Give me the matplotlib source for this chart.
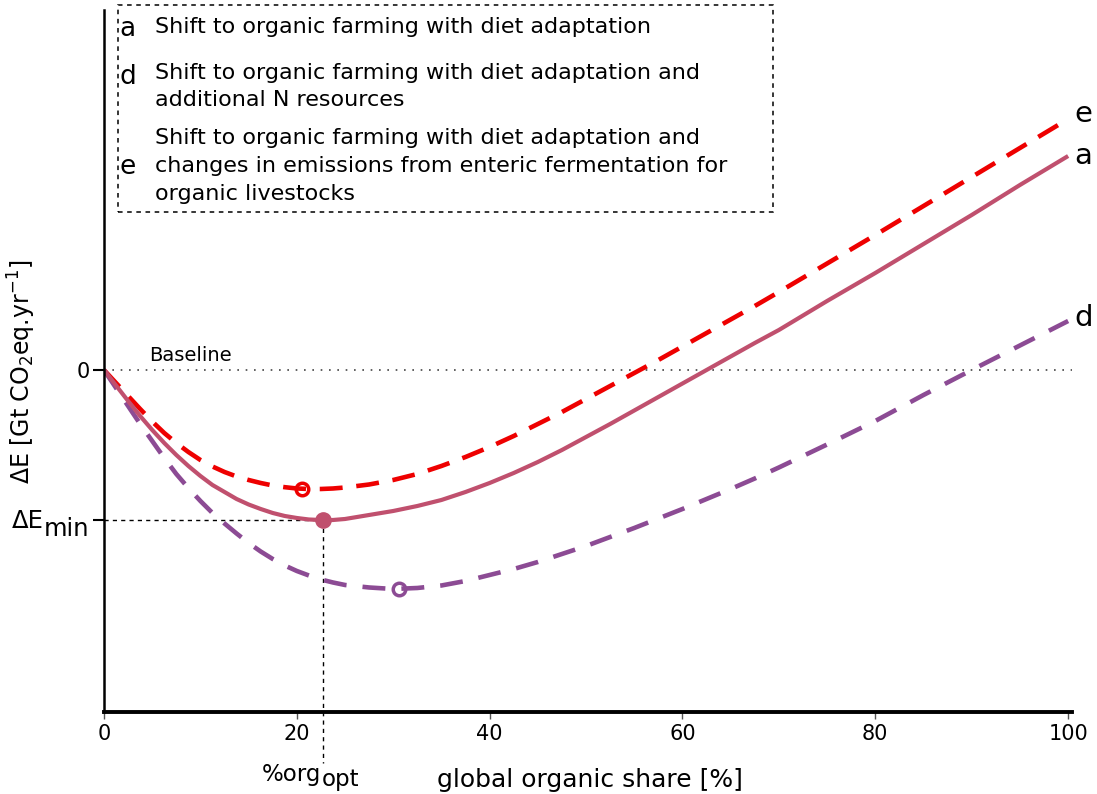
import matplotlib
matplotlib.use("Agg")
import matplotlib.pyplot as plt
from matplotlib.patches import Rectangle

# organic share [%]
share = [0, 1.25, 2.5, 3.75, 5, 6.25, 7.5, 8.75, 10, 11.25, 12.5, 13.75, 15, 16.25,
         17.5, 18.75, 20, 21.25, 22.5, 23.75, 25,
         27.5, 30, 32.5, 35, 37.5, 40, 42.5, 45, 47.5, 50, 52.5, 55, 57.5, 60,
         62.5, 65, 67.5, 70,
         75, 80, 85, 90, 95, 100]
# a: diet adaptation
dE_a = [0, -0.155, -0.31, -0.46, -0.60, -0.73, -0.85, -0.96, -1.06, -1.15, -1.22,
        -1.29, -1.345, -1.39, -1.43, -1.46, -1.48, -1.495, -1.50, -1.50, -1.49,
        -1.45, -1.41, -1.36, -1.30, -1.22, -1.13, -1.03, -0.92, -0.80, -0.67, -0.54,
        -0.405, -0.27, -0.135, 0.0, 0.135, 0.27, 0.40,
        0.69, 0.97, 1.26, 1.55, 1.85, 2.14]
# d: + additional N resources
dE_d = [0, -0.18, -0.36, -0.54, -0.71, -0.88, -1.04, -1.18, -1.31, -1.43, -1.535,
        -1.635, -1.73, -1.815, -1.89, -1.955, -2.01, -2.055, -2.095, -2.125, -2.15,
        -2.175, -2.19, -2.18, -2.155, -2.11, -2.05, -1.99, -1.92, -1.84, -1.76, -1.67,
        -1.58, -1.485, -1.39, -1.29, -1.19, -1.085, -0.975,
        -0.745, -0.51, -0.25, 0.0, 0.245, 0.49]
# e: + enteric fermentation changes
dE_e = [0, -0.13, -0.26, -0.39, -0.515, -0.63, -0.73, -0.82, -0.90, -0.965, -1.02,
        -1.065, -1.10, -1.13, -1.155, -1.172, -1.185, -1.19, -1.19, -1.185, -1.175,
        -1.145, -1.10, -1.04, -0.96, -0.87, -0.77, -0.66, -0.54, -0.42, -0.29, -0.16,
        -0.03, 0.10, 0.235, 0.37, 0.505, 0.64, 0.78,
        1.065, 1.35, 1.64, 1.93, 2.22, 2.51]

# optimum points
opt_a = (22.7, -1.50)
opt_d = (30.6, -2.19)
opt_e = (20.5, -1.19)

col_a = "#c0506e"
col_d = "#8c4b94"
col_e = "#ee0000"

legend_items = [
    ("a", ["Shift to organic farming with diet adaptation"]),
    ("d", ["Shift to organic farming with diet adaptation and",
           "additional N resources"]),
    ("e", ["Shift to organic farming with diet adaptation and",
           "changes in emissions from enteric fermentation for",
           "organic livestocks"]),
]

W, H = 1097, 794
fig = plt.figure(figsize=(W / 100, H / 100), dpi=100)
ax = fig.add_axes([0.0948, 0.1033, 0.8824, 0.8841])

ax.axhline(0, color="#444444", lw=1.2, ls=(0, (1, 4)), xmax=0.9995)
ax.text(4.7, 0.05, "Baseline", fontsize=14, va="bottom")

ax.plot(share, dE_e, color=col_e, lw=3.3, dashes=(5, 3))
ax.plot(share, dE_d, color=col_d, lw=3.3, dashes=(5, 3.5))
ax.plot(share, dE_a, color=col_a, lw=3.0, solid_capstyle="butt")

ax.plot(*opt_e, marker="o", ms=9, mfc="none", mec=col_e, mew=2.5)
ax.plot(*opt_d, marker="o", ms=9, mfc="none", mec=col_d, mew=2.5)
ax.plot(*opt_a, marker="o", ms=11, color=col_a)

# guide lines to the optimum of a
ax.plot([0, opt_a[0]], [opt_a[1], opt_a[1]], color="black", lw=1, ls=(0, (3, 3)), zorder=1)
ax.plot([opt_a[0], opt_a[0]], [opt_a[1], -3.93], color="black", lw=1, ls=(0, (3, 3)),
        zorder=1, clip_on=False)

# end labels
ax.text(100.6, dE_e[-1] + 0.05, "e", fontsize=21, va="center")
ax.text(100.6, dE_a[-1], "a", fontsize=21, va="center")
ax.text(100.6, dE_d[-1] + 0.03, "d", fontsize=21, va="center")

ax.set_xlim(0, 100.4)
ax.set_ylim(-3.42, 3.6)
ax.set_xticks([0, 20, 40, 60, 80, 100])
ax.tick_params(axis="x", labelsize=15, length=5, width=1, color="#555555", pad=4)
ax.set_yticks([opt_a[1], 0])
ax.set_yticklabels(["", "0"])
ax.tick_params(axis="y", length=8, width=1.5, pad=2, labelsize=15)

for s in ("top", "right"):
    ax.spines[s].set_visible(False)
ax.spines["left"].set_linewidth(1.8)
ax.spines["bottom"].set_linewidth(2.8)

fig.text(0.02, 0.532, r"$\Delta$E [Gt CO$_2$eq.yr$^{-1}$]", rotation=90,
         fontsize=17, ha="center", va="center")
fig.text(0.538, 0.018, "global organic share [%]", fontsize=18, ha="center", va="center")


def with_sub(x_px, base_px, main, sub, size, drop):
    # main text with a full size subscript right after it
    t = fig.text(x_px / W, 1 - base_px / H, main, fontsize=size, va="baseline")
    fig.canvas.draw()
    bb = t.get_window_extent()
    fig.text(bb.x1 / W, 1 - (base_px + drop) / H, sub, fontsize=size, va="baseline")


with_sub(12, 528, "\u0394E", "min", 17.5, 8)
with_sub(262, 781, "%org", "opt", 16.5, 5)

# legend box
fig.patches.append(Rectangle((0.1076, 0.733), 0.597, 0.2607, transform=fig.transFigure,
                             fill=False, ec="black", lw=1.1, ls=(0, (3, 3))))
letter_y = {"a": 29, "d": 77, "e": 167}
line_y = {"a": [27], "d": [73, 100], "e": [138, 166, 194]}
for lab, lines in legend_items:
    fig.text(0.1085, 1 - letter_y[lab] / 794, lab, fontsize=19, va="center")
    for yy, txt in zip(line_y[lab], lines):
        fig.text(0.1413, 1 - yy / 794, txt, fontsize=16, va="center")

fig.savefig("out.png", dpi=100)
